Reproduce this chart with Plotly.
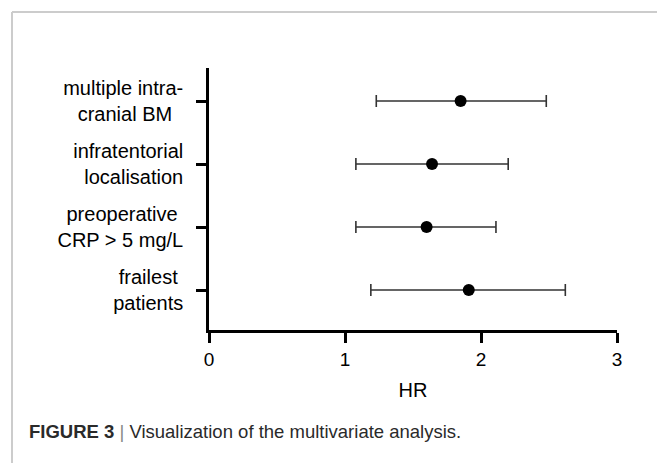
import plotly.graph_objects as go

# ---- data ----
factors = ["multiple intra-<br>cranial BM\u00a0\u00a0",
           "infratentorial<br>localisation",
           "preoperative\u00a0<br>CRP > 5 mg/L",
           "frailest\u00a0<br>patients"]
hr = [1.85, 1.64, 1.60, 1.91]
ci_low = [1.23, 1.08, 1.08, 1.19]
ci_high = [2.48, 2.20, 2.11, 2.62]
x_ticks = [0, 1, 2, 3]
positions = [3, 2, 1, 0]

OFF = 8  # page body margin
W, H = 665 - OFF, 463 - OFF
L, R, T, B = 209 - OFF, 617 - OFF, 68 - OFF, 330 - OFF  # plot area in pixels

def px(x):
    return (x - OFF - L) / (R - L)

def py(y):
    return (B - (y - OFF)) / (B - T)

FONT = "Liberation Sans, Arial, Helvetica, sans-serif"

fig = go.Figure()
fig.add_trace(go.Scatter(
    x=hr, y=positions, mode="markers",
    marker=dict(size=12, color="black"),
    error_x=dict(type="data", symmetric=False,
                 array=[h - m for h, m in zip(ci_high, hr)],
                 arrayminus=[m - l for m, l in zip(hr, ci_low)],
                 color="#333333", thickness=1.6, width=6),
    showlegend=False, hoverinfo="skip"))

fig.update_layout(
    width=W, height=H,
    margin=dict(l=L, r=W - R, t=T, b=H - B, autoexpand=False),
    paper_bgcolor="white", plot_bgcolor="white",
    font=dict(family=FONT, size=19, color="black"),
    xaxis=dict(range=[0, 3], tickvals=x_ticks, ticktext=[str(v) for v in x_ticks],
               showgrid=False, zeroline=False, showline=True, linecolor="black",
               linewidth=2.5, ticks="outside", ticklen=10, tickwidth=2.5,
               tickcolor="black", tickfont=dict(size=19),
               title=dict(text="HR", font=dict(size=20), standoff=15)),
    yaxis=dict(range=[-0.635, 3.524], tickvals=positions, ticktext=factors,
               showgrid=False, zeroline=False, showline=True, linecolor="black",
               linewidth=2.5, ticks="outside", ticklen=10, tickwidth=2.5,
               tickcolor="black", tickfont=dict(size=20), ticklabelstandoff=9),
)

# frame borders
fig.add_shape(type="line", xref="paper", yref="paper",
              x0=px(12), x1=px(662), y0=py(12), y1=py(12),
              line=dict(color="#cccccc", width=2))
fig.add_shape(type="line", xref="paper", yref="paper",
              x0=px(12), x1=px(12), y0=py(12), y1=py(475),
              line=dict(color="#cccccc", width=2))
fig.add_shape(type="line", xref="paper", yref="paper",
              x0=px(662), x1=px(662), y0=py(12), y1=py(475),
              line=dict(color="#9a9a9a", width=2))

fig.add_annotation(xref="paper", yref="paper", x=px(27), y=py(431),
                   xanchor="left", yanchor="middle", showarrow=False,
                   text="<b>FIGURE 3</b> <span style='color:#888'>|</span> Visualization of the multivariate analysis.",
                   font=dict(family=FONT, size=18.5, color="#2a2a2a"))

fig.write_html("out.html")
